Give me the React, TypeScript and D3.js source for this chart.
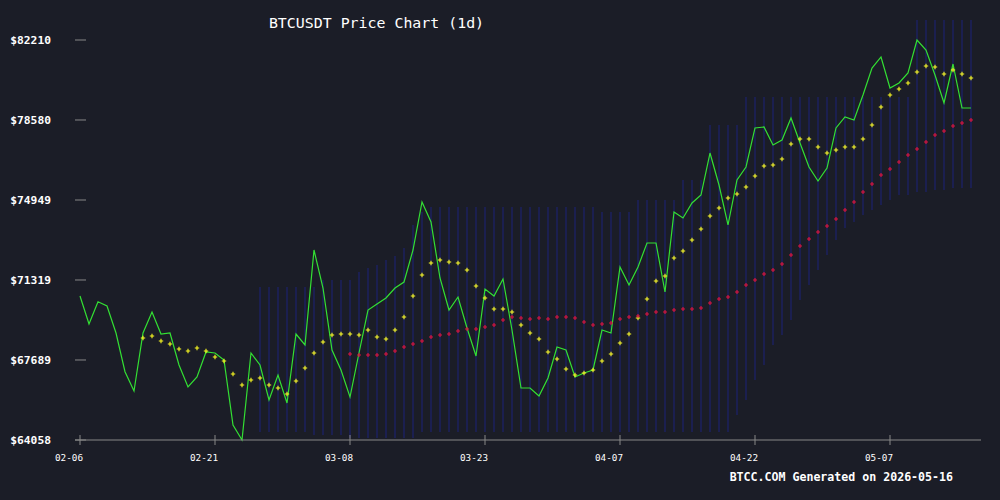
import React from "react";
import * as d3 from "d3";

const START_DATE = "2026-02-06";
const TITLE = "BTCUSDT Price Chart (1d)";
const FOOTER = "BTCC.COM Generated on 2026-05-16";
const X_TICK_LABELS = ["02-06", "02-21", "03-08", "03-23", "04-07", "04-22", "05-07"];
const Y_TICKS = [64058, 67689, 71319, 74949, 78580, 82210];

const price = [
  70593, 69322, 70334, 70139, 68914, 67157, 66282, 68914, 69867, 68868,
  68914, 67462, 66463, 66917, 68051, 68006, 67688, 64739, 64058, 68006,
  67462, 65873, 67008, 65737, 68868, 68369, 72680, 70956, 68142, 67235,
  66009, 68006, 69957, 70230, 70502, 70956, 71228, 72680, 74858, 73951,
  71410, 69957, 70547, 69141, 67870, 70910, 70593, 71364, 69050, 66418,
  66418, 66055, 66872, 68278, 68142, 66917, 67098, 67235, 69050, 68914,
  71909, 71092, 71909, 72998, 72998, 70774, 74405, 74132, 74813, 75176,
  77082, 75630, 73815, 75857, 76447, 78217, 78262, 77445, 77672, 78670,
  77536, 76447, 75811, 76401, 78217, 78716, 78580, 79714, 80939, 81439,
  80032, 80259, 80712, 82210, 81756, 80622, 79351, 81121, 79124, 79124,
];

const maShort = [
  null, null, null, null, null, null, null, 68687, 68778, 68551,
  68414, 68188, 68097, 68233, 68097, 67825, 67643, 67053, 66554, 66781,
  66872, 66554, 66418, 66145, 66735, 67325, 68006, 68505, 68823, 68868,
  68868, 68823, 69050, 68732, 68641, 69050, 69640, 70593, 71546, 72090,
  72226, 72136, 72090, 71773, 71047, 70502, 70003, 70003, 69867, 69277,
  68914, 68641, 68051, 67734, 67280, 67008, 67098, 67235, 67643, 67961,
  68460, 68868, 69594, 70457, 71273, 71500, 72317, 72635, 73134, 73633,
  74223, 74586, 75040, 75221, 75539, 76038, 76492, 76538, 76810, 77490,
  77717, 77717, 77354, 77082, 77218, 77354, 77354, 77717, 78353, 79170,
  79714, 79986, 80259, 80758, 81030, 80985, 80667, 80849, 80667, 80486,
];

const maLong = [
  null, null, null, null, null, null, null, null, null, null,
  null, null, null, null, null, null, null, null, null, null,
  null, null, null, null, null, null, null, null, null, null,
  67961, 67915, 67915, 67915, 67961, 68097, 68278, 68414, 68551, 68732,
  68823, 68868, 69004, 69095, 69095, 69186, 69277, 69504, 69640, 69594,
  69549, 69594, 69549, 69640, 69640, 69594, 69413, 69277, 69322, 69367,
  69549, 69640, 69685, 69776, 69867, 69867, 69957, 70003, 70003, 70048,
  70275, 70457, 70547, 70774, 71092, 71319, 71591, 71773, 72045, 72453,
  72862, 73179, 73497, 73769, 74087, 74495, 74858, 75312, 75675, 76084,
  76356, 76674, 76991, 77264, 77581, 77899, 78080, 78307, 78443, 78580,
];

const bandUpper = [
  null, null, null, null, null, null, null, null, null, null,
  null, null, null, null, null, null, null, null, null, null,
  71001, 71001, 71001, 71001, 71001, 71001, 71001, 71319, 71319, 71319,
  71319, 71682, 71863, 72000, 72226, 72408, 72771, 73815, 74405, 74632,
  74632, 74632, 74632, 74632, 74632, 74632, 74632, 74632, 74632, 74632,
  74632, 74632, 74632, 74632, 74632, 74632, 74632, 74632, 74405, 74405,
  74405, 74405, 74949, 74949, 74949, 74949, 74949, 75857, 75857, 75857,
  78353, 78353, 78353, 78353, 79623, 79623, 79623, 79623, 79623, 79623,
  79623, 79623, 79623, 79623, 79623, 79623, 79623, 79623, 79623, 79623,
  79623, 79623, 79623, 83118, 83118, 83118, 83118, 83118, 83118, 83118,
];

const bandLower = [
  null, null, null, null, null, null, null, null, null, null,
  null, null, null, null, null, null, null, null, null, null,
  64421, 64421, 64421, 64421, 64421, 64421, 64285, 64285, 64285, 64285,
  64149, 64149, 64149, 64149, 64149, 64149, 64149, 64149, 64421, 64421,
  64421, 64421, 64421, 64421, 64421, 64421, 64421, 64421, 64421, 64421,
  64421, 64421, 64421, 64421, 64421, 64421, 64421, 64421, 64421, 64421,
  64421, 64421, 64421, 64421, 64421, 64421, 64421, 64421, 64421, 64421,
  64421, 64421, 64421, 65193, 65873, 66781, 67462, 68369, 68823, 69504,
  70411, 71092, 71773, 72453, 73134, 73679, 73951, 74269, 74495, 74722,
  74949, 75176, 75176, 75312, 75312, 75403, 75403, 75494, 75494, 75494,
];

const W = 1000;
const H = 500;
const BG = "#1b1d27";
const MONO = "'DejaVu Sans Mono', 'Liberation Mono', monospace";

export default function App() {
  const start = d3.timeParse("%Y-%m-%d")(START_DATE) as Date;
  const dates = price.map((_, i) => d3.timeDay.offset(start, i));
  const x = d3.scaleTime().domain([dates[0], dates[dates.length - 1]]).range([80, 971]);
  const y = d3
    .scaleLinear()
    .domain([d3.min(price) as number, d3.max(price) as number])
    .range([440, 40]);

  const fmt = d3.timeFormat("%m-%d");
  const tickDates = dates.filter((d) => X_TICK_LABELS.includes(fmt(d)));

  const line = d3
    .line<number>()
    .x((_, i) => x(dates[i]))
    .y((d) => y(d));

  const plus = (cx: number, cy: number, r: number) =>
    `M${cx - r},${cy}H${cx + r}M${cx},${cy - r}V${cy + r}`;

  return (
    <svg
      width={W}
      height={H}
      style={{ position: "fixed", left: 0, top: 0, display: "block" }}
    >
      <rect x={0} y={0} width={W} height={H} fill={BG} />

      {/* band columns */}
      <g stroke="#1c2168" strokeWidth={1.3}>
        {dates.map((d, i) =>
          bandUpper[i] == null || bandLower[i] == null ? null : (
            <line
              key={i}
              x1={x(d)}
              x2={x(d)}
              y1={y(bandUpper[i] as number)}
              y2={y(bandLower[i] as number)}
            />
          )
        )}
      </g>

      {/* price line */}
      <path d={line(price) || ""} fill="none" stroke="#33e033" strokeWidth={1.2} />

      {/* short MA */}
      <path
        d={maShort
          .map((v, i) => (v == null ? "" : plus(x(dates[i]), y(v), 2.2)))
          .join("")}
        stroke="#ffff22"
        strokeWidth={1.1}
        fill="none"
      />

      {/* long MA */}
      <path
        d={maLong
          .map((v, i) => (v == null ? "" : plus(x(dates[i]), y(v), 2)))
          .join("")}
        stroke="#e0143c"
        strokeWidth={1.1}
        fill="none"
      />

      {/* x axis */}
      <line x1={75} x2={981} y1={440} y2={440} stroke="#888" strokeWidth={1} />
      {tickDates.map((d, i) => (
        <g key={i}>
          <line x1={x(d)} x2={x(d)} y1={435} y2={445} stroke="#888" strokeWidth={1} />
          <text
            x={x(d) + 3}
            y={460.5}
            textAnchor="end"
            fill="#ffffff"
            fontFamily={MONO}
            fontSize={9.3}
          >
            {fmt(d)}
          </text>
        </g>
      ))}

      {/* y axis */}
      {Y_TICKS.map((v, i) => (
        <g key={i}>
          <line x1={75} x2={86} y1={y(v)} y2={y(v)} stroke="#888" strokeWidth={1} />
          <text
            x={51}
            y={y(v) + 4}
            textAnchor="end"
            fill="#ffffff"
            fontFamily={MONO}
            fontWeight="bold"
            fontSize={11.3}
          >
            {"$" + v}
          </text>
        </g>
      ))}

      <text
        x={376.5}
        y={28}
        textAnchor="middle"
        fill="#ffffff"
        fontFamily={MONO}
        fontSize={14.9}
      >
        {TITLE}
      </text>

      <text
        x={953}
        y={481}
        textAnchor="end"
        fill="#ffffff"
        fontFamily={MONO}
        fontWeight="bold"
        fontSize={11.6}
      >
        {FOOTER}
      </text>
    </svg>
  );
}
